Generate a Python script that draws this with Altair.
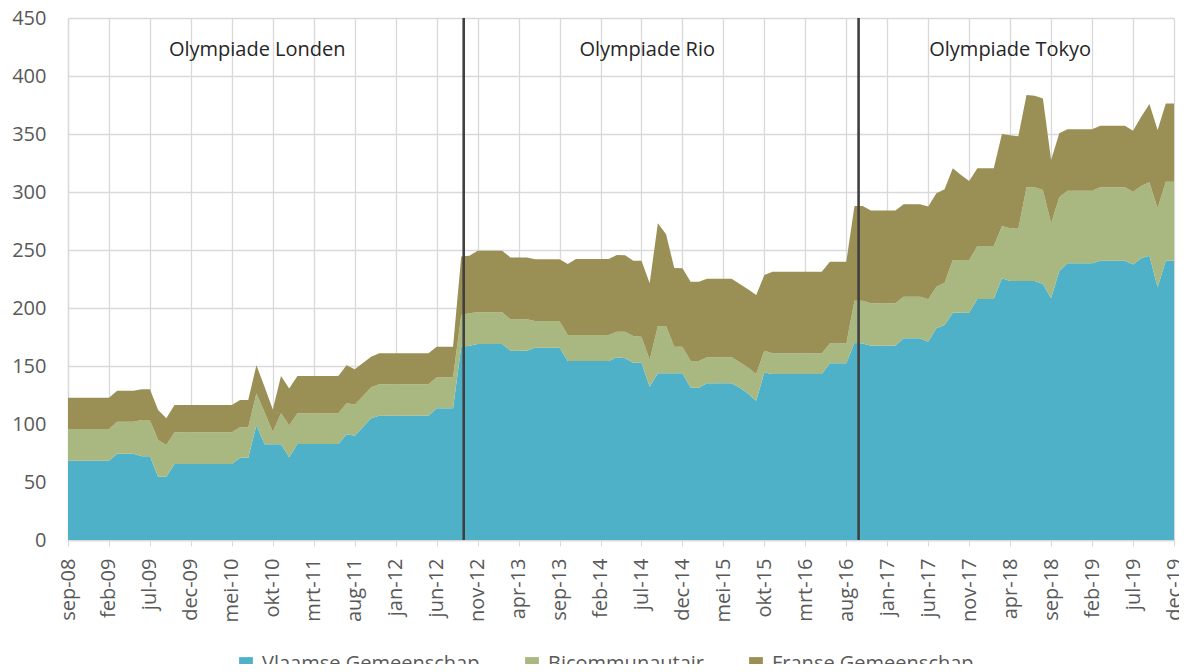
import json
import altair as alt
import pandas as pd

# ---------------- data (monthly, sep-08 .. dec-19) ----------------
series_names = ["Vlaamse Gemeenschap", "Bicommunautair", "Franse Gemeenschap"]
series_colors = ["#4EB1C7", "#A8B880", "#9A8F55"]

vlaams = [
    68.4, 68.4, 68.4, 68.4, 68.4, 68.4, 74.4, 74.4, 74.4, 72.1,
    72.1, 54.6, 54.6, 65.5, 65.5, 65.5, 65.5, 65.5, 65.5, 65.5,
    65.5, 71.0, 71.0, 99.0, 82.5, 82.5, 82.5, 71.3, 82.8, 82.8,
    82.8, 82.8, 82.8, 82.8, 91.1, 89.9, 97.5, 104.9, 107.2, 107.2,
    107.2, 107.2, 107.2, 107.2, 107.2, 113.5, 113.5, 113.5, 166.6, 167.5,
    169.0, 169.0, 169.0, 169.0, 163.2, 163.2, 163.2, 165.8, 165.8, 165.8,
    165.8, 154.3, 154.3, 154.3, 154.3, 154.3, 154.3, 157.5, 156.6, 152.9,
    152.9, 132.2, 143.7, 143.7, 143.7, 143.7, 131.3, 131.3, 135.1, 135.1,
    135.1, 135.1, 131.3, 126.4, 120.1, 144.5, 143.1, 143.1, 143.1, 143.1,
    143.1, 143.1, 143.1, 152.3, 152.3, 152.3, 169.8, 169.5, 167.5, 167.5,
    167.5, 167.5, 173.9, 173.9, 173.9, 171.0, 182.5, 185.3, 196.0, 196.0,
    196.0, 207.8, 207.8, 207.8, 225.6, 223.3, 223.3, 223.3, 223.3, 220.7,
    208.3, 231.9, 238.5, 238.5, 238.5, 238.5, 240.8, 240.8, 240.8, 240.8,
    237.6, 242.8, 245.1, 217.8, 240.8, 240.8,
]

bicommunautair = [
    27.3, 27.3, 27.3, 27.3, 27.3, 27.3, 27.6, 27.6, 27.6, 31.3,
    31.3, 31.6, 27.3, 27.3, 27.3, 27.3, 27.3, 27.3, 27.3, 27.3,
    27.3, 26.1, 26.1, 27.4, 27.5, 10.9, 26.7, 27.7, 26.4, 26.4,
    26.4, 26.4, 26.4, 26.4, 26.7, 27.0, 26.5, 26.7, 27.0, 27.0,
    27.0, 27.0, 27.0, 27.0, 27.0, 26.7, 26.7, 26.7, 27.4, 27.9,
    27.3, 27.3, 27.3, 27.3, 27.1, 27.1, 27.1, 23.0, 23.0, 23.0,
    23.0, 22.4, 22.4, 22.4, 22.4, 22.4, 22.4, 22.1, 23.0, 23.0,
    22.4, 23.0, 40.8, 40.8, 22.9, 22.9, 23.0, 23.0, 22.4, 22.4,
    22.4, 22.4, 21.9, 22.2, 23.0, 18.7, 17.8, 17.8, 17.8, 17.8,
    17.8, 17.8, 17.8, 17.2, 17.2, 17.2, 36.4, 36.7, 36.5, 36.5,
    36.5, 36.5, 35.9, 35.9, 35.9, 36.5, 35.9, 36.5, 45.4, 45.4,
    45.4, 45.6, 45.6, 45.6, 45.1, 45.4, 45.1, 80.7, 80.7, 81.0,
    64.7, 63.5, 62.6, 62.6, 62.6, 62.6, 63.2, 63.2, 63.2, 63.2,
    62.7, 62.4, 63.2, 68.1, 68.1, 68.1,
]

frans = [
    27.0, 27.0, 27.0, 27.0, 27.0, 27.0, 26.7, 26.7, 26.7, 26.5,
    26.5, 25.8, 23.0, 23.6, 23.6, 23.6, 23.6, 23.6, 23.6, 23.6,
    23.6, 23.6, 23.6, 24.2, 22.0, 19.2, 32.2, 31.7, 32.2, 32.2,
    32.2, 32.2, 32.2, 32.2, 32.8, 30.2, 28.5, 26.4, 26.7, 26.7,
    26.7, 26.7, 26.7, 26.7, 26.7, 26.4, 26.4, 26.4, 50.3, 49.6,
    53.1, 53.1, 53.1, 53.1, 53.3, 53.3, 53.3, 53.2, 53.2, 53.2,
    53.2, 61.2, 65.5, 65.5, 65.5, 65.5, 65.5, 66.1, 65.9, 64.9,
    65.5, 66.1, 88.5, 79.0, 67.9, 67.6, 68.4, 68.4, 67.8, 67.8,
    67.8, 67.8, 67.5, 67.5, 68.1, 65.2, 70.4, 70.4, 70.4, 70.4,
    70.4, 70.4, 70.4, 70.4, 70.4, 70.4, 81.8, 81.8, 80.0, 80.0,
    80.0, 80.0, 79.6, 79.6, 79.6, 79.9, 80.5, 80.5, 79.0, 73.3,
    68.1, 67.0, 67.0, 67.0, 79.3, 80.2, 79.6, 79.6, 79.0, 79.0,
    54.6, 55.2, 52.9, 52.9, 52.9, 52.9, 53.2, 53.2, 53.2, 53.2,
    52.6, 59.7, 67.6, 67.5, 67.5, 67.5,
]

tick_labels = [
    "sep-08", "feb-09", "jul-09", "dec-09", "mei-10", "okt-10", "mrt-11",
    "aug-11", "jan-12", "jun-12", "nov-12", "apr-13", "sep-13", "feb-14",
    "jul-14", "dec-14", "mei-15", "okt-15", "mrt-16", "aug-16", "jan-17",
    "jun-17", "nov-17", "apr-18", "sep-18", "feb-19", "jul-19", "dec-19",
]
tick_step = 5  # one label every 5 months

# Olympic annotations
olympic_names = ["Olympiade Londen", "Olympiade Rio", "Olympiade Tokyo"]
olympic_label_month = [23.1, 70.7, 115.0]
olympic_label_value = [422, 422, 422]
olympic_marker_month = [48.3, 96.5]

# ---------------- build tables ----------------
rows = []
for k, (name, vals) in enumerate(zip(series_names, [vlaams, bicommunautair, frans])):
    for i, v in enumerate(vals):
        rows.append({"idx": i, "value": v, "serie": name, "ord": k})
df = pd.DataFrame(rows)

ann = pd.DataFrame({"idx": olympic_label_month, "value": olympic_label_value,
                    "text": olympic_names})
marks_df = pd.DataFrame({"idx": olympic_marker_month})

FONT = "Open Sans"
GREY = "#595959"
n_months = len(vlaams)
tick_values = [i * tick_step for i in range(len(tick_labels))]
label_expr = json.dumps(tick_labels) + "[round(datum.value / %d)]" % tick_step

x_scale = alt.Scale(domain=[0, n_months - 1], nice=False, zero=False)
y_scale = alt.Scale(domain=[0, 450], nice=False)

areas = alt.Chart(df).mark_area(interpolate="linear", strokeWidth=0, opacity=1).encode(
    x=alt.X("idx:Q", scale=x_scale, title=None,
            axis=alt.Axis(values=tick_values, labelExpr=label_expr, labelAngle=-90,
                          labelAlign="right", labelBaseline="middle",
                          ticks=True, tickSize=6, tickColor="#D9D9D9",
                          labelPadding=12, grid=True, gridColor="#D9D9D9",
                          gridWidth=1.3, domainColor="#D9D9D9", domainWidth=1.3,
                          labelOverlap=False, labelFlush=False)),
    y=alt.Y("value:Q", stack="zero", scale=y_scale, title=None,
            axis=alt.Axis(values=list(range(0, 451, 50)), ticks=False,
                          labelPadding=22, grid=True, gridColor="#D9D9D9",
                          gridWidth=1.3, domainColor="#D9D9D9", domainWidth=1.3)),
    color=alt.Color("serie:N",
                    scale=alt.Scale(domain=series_names, range=series_colors),
                    legend=alt.Legend(title=None, orient="none", direction="horizontal",
                                      legendX=168, legendY=636,
                                      symbolType="square", symbolSize=190,
                                      symbolStrokeWidth=0, labelFontSize=20,
                                      labelFont=FONT, labelColor=GREY,
                                      labelOffset=6, columnPadding=42,
                                      labelLimit=400)),
    order=alt.Order("ord:Q", sort="ascending"),
)

rules = alt.Chart(marks_df).mark_rule(color="#404040", strokeWidth=2.6).encode(
    x=alt.X("idx:Q", scale=x_scale),
    y=alt.value(0),
    y2=alt.value(522),
)

texts = alt.Chart(ann).mark_text(font=FONT, fontSize=20, color="#262626",
                                 align="center", baseline="middle").encode(
    x=alt.X("idx:Q", scale=x_scale),
    y=alt.Y("value:Q", scale=y_scale),
    text="text:N",
)

chart = alt.layer(areas, rules, texts).properties(
    width=1106, height=522,
    autosize=alt.AutoSizeParams(type="none"),
    padding={"left": 60, "top": 10, "right": 5, "bottom": 124},
    background="white",
).configure_axis(
    labelFont=FONT, labelFontSize=20, labelColor=GREY,
).configure_view(stroke=None)

chart.save("out.html", embed_options={"renderer": "svg", "actions": False})
